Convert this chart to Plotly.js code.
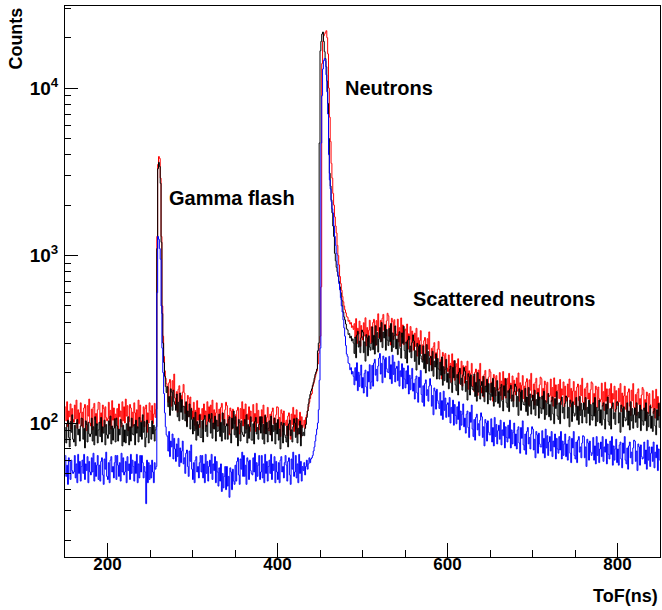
<!DOCTYPE html>
<html>
<head>
<meta charset="utf-8">
<script src="https://cdn.plot.ly/plotly-3.0.1.min.js"></script>
<style>
  html, body { margin: 0; padding: 0; background: #fff; }
  #chart { width: 662px; height: 610px; }
</style>
</head>
<body>
<div id="chart"></div>
<script>
// Histogram binning (ToF in ns)
const tofStart = 150;
const binWidth = 1;

// Counts per 1 ns bin, 150..850 ns (700 bins each)
const redCounts = [
  125,103,134,95,118,109,130,92,122,105,
  101,128,106,137,93,120,99,115,132,96,
  116,94,123,129,102,90,127,110,139,100,
  96,121,91,124,131,105,114,97,120,133,
  132,100,115,88,128,122,95,125,108,103,
  106,133,97,119,92,136,104,123,94,113,
  105,122,92,130,109,118,95,134,103,125,
  100,139,110,127,90,102,129,123,94,116,
  96,132,115,99,120,93,137,106,128,101,
  103,108,125,95,122,128,88,115,100,132,
  118,104,127,99,113,131,108,121,1300,3500,
  3900,3800,2900,1300,500,330,250,205,185,172,
  164,133,174,182,144,126,179,155,196,141,
  123,154,116,159,167,134,146,124,153,170,
  151,114,132,101,146,140,109,143,123,118,
  106,133,97,119,92,136,104,123,94,113,
  105,122,92,130,109,118,95,134,103,125,
  101,128,106,137,93,120,99,115,132,96,
  96,121,91,124,131,105,114,97,120,133,
  127,96,111,85,123,118,92,121,104,99,
  112,91,119,124,98,86,122,106,134,96,
  121,99,130,92,113,105,125,89,118,102,
  103,129,94,114,89,131,100,119,91,109,
  95,120,100,128,87,112,92,108,124,90,
  90,113,85,117,123,99,107,91,112,125,
  124,93,108,83,120,114,89,118,101,97,
  104,84,110,115,91,80,113,98,124,89,
  112,92,120,85,105,97,116,82,109,94,
  97,104,93,108,112,118,125,133,140,147,
  150,165,172,180,190,198,205,225,260,290,
  330,650,14000,19000,20500,21000,21500,22000,20000,16000,
  10000,6700,4800,3550,2900,2350,2000,1700,1500,1365,
  1150,1000,880,750,680,620,570,530,500,474,
  455,432,428,405,410,390,398,372,380,362,
  392,322,420,298,368,340,406,287,382,329,
  313,397,331,425,289,372,306,358,411,299,
  376,304,398,416,329,290,409,355,449,322,
  327,410,308,422,445,357,388,331,407,452,
  437,329,381,292,422,403,315,414,355,340,
  333,417,305,371,287,424,326,385,294,354,
  364,299,390,276,341,315,377,267,354,306,
  272,344,287,368,251,323,266,311,356,260,
  293,237,310,324,257,226,319,276,350,251,
  222,279,209,286,302,243,263,224,276,307,
  274,206,239,183,264,253,197,260,223,213,
  203,255,186,227,175,259,199,235,180,216,
  226,186,242,172,212,196,234,166,220,190,
  173,219,182,234,159,205,169,198,227,165,
  190,154,201,210,167,146,207,179,227,163,
  151,190,143,195,206,165,180,153,188,209,
  202,152,176,135,195,186,145,192,164,157,
  160,200,146,178,138,203,156,185,141,170,
  185,152,198,140,173,160,191,135,180,155,
  147,186,155,199,135,174,143,168,192,140,
  166,134,176,184,146,128,181,157,198,142,
  136,171,128,175,185,149,161,137,169,188,
  184,139,161,123,178,170,133,175,150,144,
  146,183,134,163,126,186,143,169,129,156,
  170,140,182,129,160,147,176,125,166,143,
  135,171,143,183,125,161,132,155,177,129,
  155,125,164,171,136,119,168,146,185,133,
  127,160,120,164,173,139,151,129,158,176,
  172,130,150,115,166,159,124,164,140,134,
  138,173,126,154,119,175,135,160,122,146,
  160,132,172,122,150,139,166,117,156,134,
  127,161,134,172,117,151,124,145,166,121,
  145,117,153,160,126,111,157,136,172,124,
  118,148,111,152,160,129,140,119,147,163,
  158,119,138,106,153,146,114,150,129,123,
  124,156,114,139,107,159,122,144,110,132
];

const blackCounts = [
  94,76,99,104,82,72,102,88,112,80,
  77,97,73,100,105,85,92,78,96,107,
  106,80,93,71,103,98,77,101,86,83,
  86,107,78,95,74,109,84,99,76,91,
  101,83,108,77,95,87,104,74,98,85,
  81,103,86,110,75,96,79,93,106,77,
  107,96,78,92,85,105,100,73,97,77,
  91,76,99,84,109,74,95,78,107,86,
  85,98,74,104,87,95,77,108,83,101,
  80,112,88,102,72,82,104,99,76,94,
  94,80,103,86,97,78,91,95,1100,3300,
  3600,3400,2700,1200,450,300,230,190,165,152,
  165,125,144,111,160,153,119,157,134,129,
  119,149,109,133,103,151,116,138,105,126,
  125,103,134,95,118,109,130,92,122,105,
  86,108,90,116,79,102,84,98,112,82,
  82,103,77,105,111,89,97,83,102,113,
  106,87,114,81,100,92,110,78,104,89,
  90,113,83,101,78,115,88,105,80,96,
  99,80,105,109,86,76,107,93,118,85,
  109,82,95,73,105,100,78,103,88,85,
  83,105,87,112,76,98,81,95,109,79,
  79,99,75,102,108,86,94,80,98,109,
  87,109,80,98,75,111,86,101,77,93,
  103,85,110,78,97,89,107,75,100,86,
  105,79,92,70,101,97,76,100,85,82,
  77,96,72,99,104,84,91,77,95,106,
  100,82,107,76,93,86,103,73,97,84,
  88,84,93,98,108,118,130,140,148,155,
  160,168,175,185,195,202,210,270,300,4700,
  16700,19000,21000,21600,19000,16500,15000,13400,11000,8100,
  5000,3100,2600,2150,1800,1500,1300,1030,930,850,
  800,750,700,650,600,543,500,460,430,413,
  390,365,360,338,342,322,330,309,318,300,
  260,326,245,335,353,284,308,263,323,359,
  349,263,305,234,337,323,252,332,284,272,
  299,375,274,334,258,381,293,347,265,318,
  372,305,398,282,349,322,385,272,362,312,
  290,367,306,393,267,345,283,332,380,277,
  317,256,336,351,278,244,345,299,378,271,
  243,305,228,313,330,265,288,245,302,336,
  309,233,270,207,299,286,223,293,252,241,
  231,289,211,258,199,294,226,267,204,245,
  250,205,268,190,234,216,259,183,243,210,
  183,231,193,248,168,217,179,209,240,175,
  198,160,209,219,173,152,215,186,236,169,
  156,195,147,201,212,170,185,157,194,215,
  204,154,178,137,197,189,147,194,166,159,
  157,196,144,175,135,200,153,182,139,167,
  177,145,190,134,166,153,183,130,172,149,
  137,173,144,185,126,163,134,157,179,131,
  154,124,163,170,135,118,167,145,184,132,
  124,156,117,160,168,135,147,125,154,171,
  165,125,144,111,160,153,119,157,134,129,
  128,161,117,143,111,163,126,149,113,136,
  147,121,157,111,138,127,152,107,143,123,
  114,145,121,155,105,136,112,131,150,109,
  129,104,136,143,113,99,140,122,154,110,
  105,132,99,135,143,115,124,106,131,145,
  142,107,124,95,137,131,102,134,115,110,
  113,142,104,126,98,144,111,131,100,120,
  132,109,142,100,124,114,137,97,129,111,
  104,132,110,142,96,124,102,119,137,100,
  120,97,127,132,105,92,130,113,143,102,
  97,122,92,125,132,106,115,98,121,134,
  132,100,115,88,128,122,95,125,108,103,
  105,132,97,118,91,134,103,122,93,112,
  123,101,132,94,116,107,128,90,120,103,
  97,123,103,132,90,116,95,111,127,93,
  110,89,117,122,96,85,120,104,131,94
];

const blueCounts = [
  64,48,56,43,62,59,46,60,52,50,
  51,64,47,57,44,65,50,59,45,55,
  60,50,65,46,57,52,63,44,59,51,
  49,62,51,66,45,58,48,56,64,46,
  56,45,59,62,49,43,61,53,67,48,
  46,58,44,60,63,51,55,47,58,64,
  46,64,56,48,58,45,66,51,62,49,
  51,59,44,63,52,57,46,65,50,60,
  55,45,59,50,65,44,57,47,64,51,
  64,58,47,55,51,33,60,44,58,46,
  56,47,60,51,44,58,53,55,600,1300,
  1250,1100,950,500,280,200,150,115,95,85,
  83,68,89,63,78,72,86,61,81,70,
  59,75,63,81,55,71,58,68,78,57,
  62,50,66,69,55,48,68,59,74,53,
  46,58,44,60,63,51,55,47,58,64,
  51,64,47,57,44,65,50,59,45,55,
  60,50,65,46,57,52,63,44,59,51,
  42,54,45,57,39,50,41,48,55,40,
  55,42,48,36,54,51,40,53,45,43,
  56,45,59,62,49,43,61,53,67,48,
  64,48,56,43,62,59,46,60,52,50,
  49,62,51,66,45,58,48,56,64,46,
  51,64,47,57,44,65,50,59,45,55,
  60,50,65,46,57,52,63,44,59,51,
  46,58,44,60,63,51,55,47,58,64,
  56,45,59,62,49,43,61,53,67,48,
  51,64,47,57,44,65,50,59,45,55,
  52,58,49,55,60,53,57,62,58,61,
  62,64,68,72,78,85,92,100,120,180,
  280,4700,9000,13000,14600,15000,14500,12000,9500,7000,
  4000,2830,2500,2100,1900,1795,1500,1300,1150,1030,
  880,760,680,624,560,500,460,413,370,330,
  290,258,250,228,226,208,214,196,203,190,
  169,214,179,229,156,201,165,194,222,162,
  187,151,198,207,164,144,203,176,223,160,
  176,221,166,228,240,193,209,178,219,244,
  260,196,227,174,251,240,187,246,211,202,
  200,250,183,223,172,254,195,231,176,212,
  218,179,234,166,205,189,226,160,213,183,
  162,205,171,220,149,193,158,185,212,155,
  173,139,183,191,151,133,188,163,206,148,
  133,167,126,172,181,146,158,135,166,184,
  168,126,146,112,162,155,121,159,136,131,
  122,152,111,136,105,155,119,141,108,129,
  132,109,142,100,124,114,137,97,129,111,
  99,125,105,134,91,118,97,113,130,95,
  107,87,113,118,94,82,116,101,128,92,
  83,105,79,108,113,91,99,84,104,115,
  109,82,95,73,105,100,78,103,88,85,
  85,106,77,94,73,108,83,98,75,90,
  97,80,104,74,91,84,101,71,95,82,
  77,97,81,104,71,91,75,88,100,73,
  86,70,91,95,76,66,94,81,103,74,
  69,86,65,89,94,75,82,70,86,95,
  92,69,80,62,89,85,66,87,75,72,
  72,90,66,81,62,92,71,84,64,77,
  83,68,89,63,78,72,86,61,81,70,
  66,83,69,89,61,78,64,75,86,63,
  75,60,79,83,66,58,81,71,89,64,
  61,77,58,79,83,67,72,62,76,84,
  83,62,72,55,80,76,60,78,67,64,
  66,82,60,73,57,83,64,76,58,70,
  77,63,83,59,72,67,80,57,75,65,
  61,78,65,83,56,73,60,70,80,58,
  70,56,74,77,61,54,76,66,83,60,
  57,71,53,73,77,62,67,57,71,79,
  78,59,68,52,75,72,56,74,63,61,
  62,77,57,69,53,79,60,72,55,66,
  72,59,77,54,67,62,74,52,70,60
];

// Axis ticks
const xTickVals = [200, 400, 600, 800];
const yTickVals = [100, 1000, 10000];
const yTickText = ['10<sup>2</sup>', '10<sup>3</sup>', '10<sup>4</sup>'];
const yMinorVals = [20,30,40,50,60,70,80,90,200,300,400,500,600,700,800,900,
                    2000,3000,4000,5000,6000,7000,8000,9000,20000,30000];

const binCenters = redCounts.map((_, i) => tofStart + binWidth * (i + 0.5));

function hist(counts, color) {
  return {
    type: 'scatter', mode: 'lines',
    x: binCenters, y: counts,
    line: { color: color, width: 1, shape: 'hvh' },
    hoverinfo: 'skip', showlegend: false
  };
}

const FONT = 'Liberation Sans, Arial, Helvetica, sans-serif';

const data = [
  hist(redCounts, '#ff0000'),
  hist(blackCounts, '#000000'),
  hist(blueCounts, '#0000ff')
];

const layout = {
  width: 662, height: 610,
  margin: { l: 65, r: 2, t: 6, b: 53, pad: 0 },
  paper_bgcolor: '#ffffff', plot_bgcolor: '#ffffff',
  showlegend: false,
  font: { family: FONT, color: '#000000' },
  xaxis: {
    range: [150, 850],
    tickmode: 'array', tickvals: xTickVals,
    ticks: 'inside', ticklen: 14, tickwidth: 1, tickcolor: '#000',
    minor: { dtick: 50, tick0: 0, ticks: 'inside', ticklen: 7, tickwidth: 1, tickcolor: '#000' },
    showline: true, linecolor: '#000', linewidth: 1, mirror: true,
    showgrid: false, zeroline: false,
    tickfont: { family: FONT, size: 17, weight: 'bold', color: '#000' },
    ticklabelstandoff: -8
  },
  yaxis: {
    type: 'log',
    range: [1.2, 4.49],
    tickmode: 'array', tickvals: yTickVals, ticktext: yTickText,
    ticks: 'inside', ticklen: 13, tickwidth: 1, tickcolor: '#000',
    minor: { tickmode: 'array', tickvals: yMinorVals, ticks: 'inside', ticklen: 6, tickwidth: 1, tickcolor: '#000' },
    showline: true, linecolor: '#000', linewidth: 1, mirror: true,
    showgrid: false, zeroline: false,
    tickfont: { family: FONT, size: 19, weight: 'bold', color: '#000' },
    ticklabelstandoff: 2
  },
  annotations: [
    { text: 'Counts', xref: 'paper', yref: 'paper', x: -0.083, y: 1, xanchor: 'center', yanchor: 'top',
      textangle: -90, showarrow: false, font: { family: FONT, size: 18, weight: 'bold', color: '#000' } },
    { text: 'ToF(ns)', xref: 'paper', yref: 'paper', x: 1, y: -0.071, xanchor: 'right', yanchor: 'middle',
      showarrow: false, font: { family: FONT, size: 18, weight: 'bold', color: '#000' } },
    { text: 'Gamma flash', xref: 'paper', yref: 'paper', x: 0.1717, y: 0.652, xanchor: 'left', yanchor: 'middle',
      showarrow: false, font: { family: FONT, size: 20, weight: 'bold', color: '#000' } },
    { text: 'Neutrons', xref: 'paper', yref: 'paper', x: 0.468, y: 0.8514, xanchor: 'left', yanchor: 'middle',
      showarrow: false, font: { family: FONT, size: 20, weight: 'bold', color: '#000' } },
    { text: 'Scattered neutrons', xref: 'paper', yref: 'paper', x: 0.5808, y: 0.469, xanchor: 'left', yanchor: 'middle',
      showarrow: false, font: { family: FONT, size: 20, weight: 'bold', color: '#000' } }
  ]
};

Plotly.newPlot('chart', data, layout, { displayModeBar: false, staticPlot: true });
</script>
</body>
</html>
